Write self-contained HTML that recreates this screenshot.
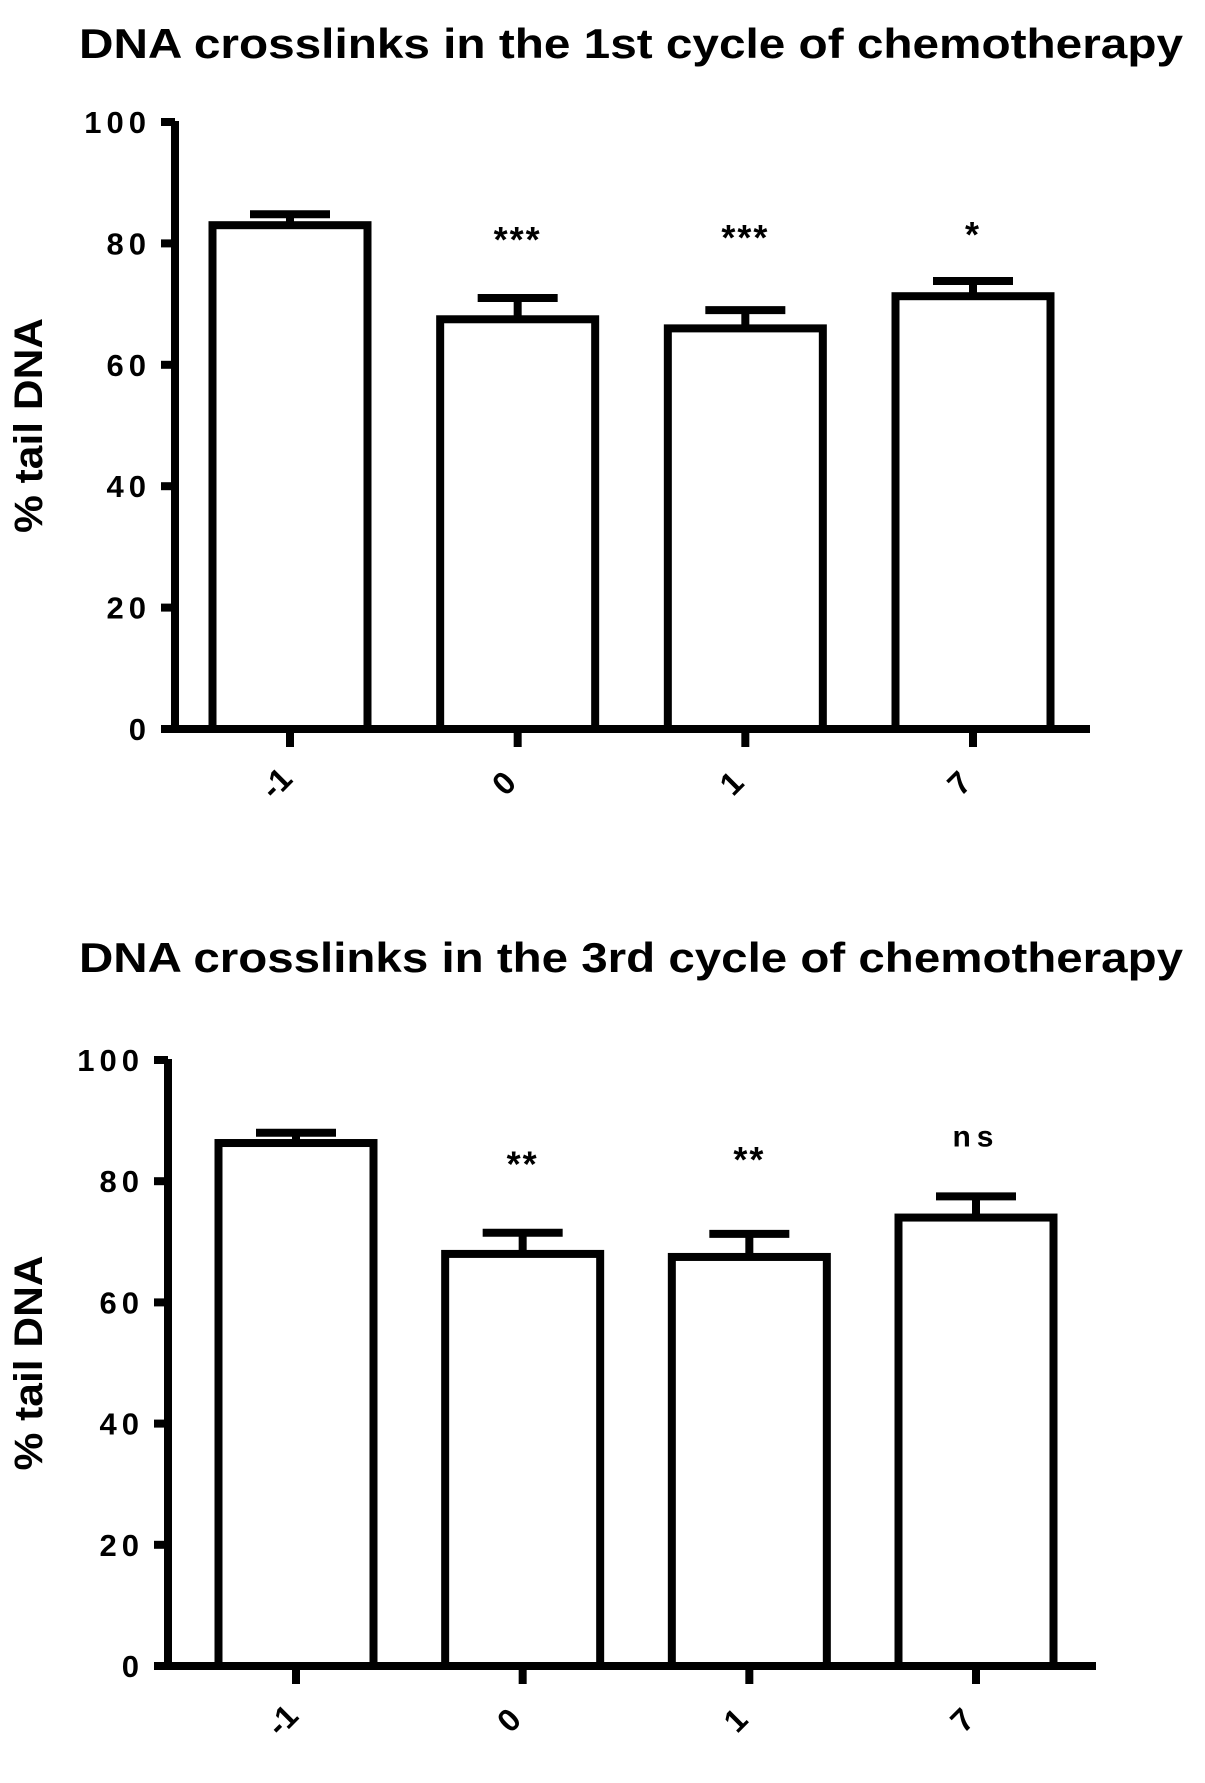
<!DOCTYPE html>
<html><head><meta charset="utf-8">
<style>
html,body{margin:0;padding:0;background:#fff;}
svg{display:block;font-family:"Liberation Sans",Arial,sans-serif;}
</style></head>
<body>
<svg id="fig" width="1205" height="1783" viewBox="0 0 1205 1783" xmlns="http://www.w3.org/2000/svg"></svg>
<script>
const categories = ["-1","0","1","7"];
const yTicks = [0,20,40,60,80,100];
const cycle1Values = [83,67.5,66,71.3];
const cycle1ErrTop = [84.8,71,69,73.8];
const cycle1Annot = ["","***","***","*"];
const cycle3Values = [86.3,68,67.5,74];
const cycle3ErrTop = [88,71.5,71.3,77.5];
const cycle3Annot = ["","**","**","ns"];

const NS="http://www.w3.org/2000/svg";
const svg=document.getElementById('fig');
function mk(tag,attrs,parent){const e=document.createElementNS(NS,tag);for(const k in attrs)e.setAttribute(k,attrs[k]);(parent||svg).appendChild(e);return e;}

function chart(cfg){
  const g=mk('g',{});
  
  
  const y=v=>cfg.y0-(cfg.y0-cfg.y100)*v/100;
  const bw=155, step=(cfg.tick3-cfg.tick0)/3;
  const xc=i=>cfg.tick0+i*step;
  const sw=8;
  const t=mk('text',{x:cfg.titleX0,y:cfg.titleY,'font-size':42,'font-weight':'bold',textLength:1104,lengthAdjust:'spacingAndGlyphs'},g);
  t.textContent=cfg.title;
  
  
  const yt=mk('text',{x:0,y:0,'font-size':40,'font-weight':'bold','text-anchor':'middle',textLength:215,lengthAdjust:'spacingAndGlyphs',transform:`translate(${cfg.yTitleX},${(cfg.y0+cfg.y100)/2}) rotate(-90)`},g);
  yt.textContent='% tail DNA';
  
  
  cfg.values.forEach((v,i)=>{
    const x=xc(i)-bw/2;
    const top=y(cfg.err[i]);
    const e=mk('path',{d:`M${xc(i)} ${y(v)} V${top} M${xc(i)-40} ${top} H${xc(i)+40}`,stroke:'#000','stroke-width':sw,fill:'none'},g);
    
    
    const r=mk('rect',{x:x,y:y(v),width:bw,height:cfg.y0-y(v),fill:'#fff',stroke:'#000','stroke-width':sw},g);
    
    
    if(cfg.annot[i]){
      const isNs=cfg.annot[i]==='ns';
      const a=mk('text',{x:xc(i),y:y(cfg.err[i])-cfg.annotGap[i]+(isNs?0:10),'font-size':isNs?30:36,'font-weight':'bold','text-anchor':'middle','letter-spacing':isNs?6:2},g);
      a.textContent=cfg.annot[i];
      
      
    }
    const tk=mk('line',{x1:xc(i),x2:xc(i),y1:cfg.y0,y2:cfg.y0+18,stroke:'#000','stroke-width':sw},g);
    
    
    const lx=xc(i)-6, ly=cfg.y0+62;
    const lb=mk('text',{x:0,y:0,'font-size':32,'font-weight':'bold','text-anchor':'middle',transform:`translate(${lx},${ly}) rotate(-45)`},g);
    lb.textContent=categories[i];
    
    
  });
  const ax=mk('path',{d:`M${cfg.axisX} ${cfg.y100-1} V${cfg.y0} M${cfg.axisX-14} ${cfg.y0} H${cfg.xEnd}`,stroke:'#000','stroke-width':sw,fill:'none'},g);
  
  
  yTicks.forEach(v=>{
    const l=mk('line',{x1:cfg.axisX-14,x2:cfg.axisX,y1:y(v),y2:y(v),stroke:'#000','stroke-width':sw},g);
    
    
    const tx=mk('text',{x:cfg.axisX-24,y:y(v)+11,'font-size':31,'font-weight':'bold','text-anchor':'end','letter-spacing':5},g);
    tx.textContent=v;
    
    
  });
}
chart({name:'chart-cycle-1',title:'DNA crosslinks in the 1st cycle of chemotherapy',titleX0:79,titleY:58,
  y0:729,y100:122,axisX:175,xEnd:1090,tick0:290,tick3:973,yTitleX:42,
  values:cycle1Values,err:cycle1ErrTop,annot:cycle1Annot,annotGap:[0,56,70,44]});
chart({name:'chart-cycle-3',title:'DNA crosslinks in the 3rd cycle of chemotherapy',titleX0:79,titleY:972,
  y0:1666,y100:1060,axisX:168,xEnd:1096,tick0:296,tick3:976,yTitleX:42,
  values:cycle3Values,err:cycle3ErrTop,annot:cycle3Annot,annotGap:[0,66,72,50]});
</script>
</body></html>
